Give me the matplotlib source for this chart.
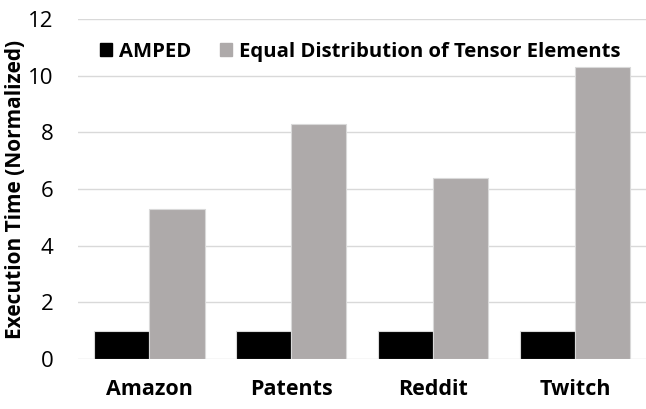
import matplotlib.pyplot as plt
import numpy as np
from matplotlib.patches import Patch

datasets = ["Amazon", "Patents", "Reddit", "Twitch"]
amped = [1.0, 1.0, 1.0, 1.0]
equal_dist = [5.3, 8.3, 6.4, 10.3]
yticks = [0, 2, 4, 6, 8, 10, 12]

plt.rcParams["font.family"] = ["Open Sans", "DejaVu Sans"]

fig = plt.figure(figsize=(6.46, 4.09), dpi=100)
ax = fig.add_axes([0.121, 0.122, 0.879, 0.832])

x = np.arange(len(datasets))
w = 0.39
ax.bar(x - w / 2, amped, w, color="black", edgecolor="#d9d9d9", linewidth=0.8, zorder=3)
ax.bar(x + w / 2, equal_dist, w, color="#aeaaaa", edgecolor="#d9d9d9", linewidth=0.8, zorder=3)

ax.set_xlim(-0.5, 3.5)
ax.set_ylim(0, 12)
ax.set_yticks(yticks)
ax.set_yticklabels([str(t) for t in yticks], fontsize=16)
ax.set_xticks(x)
ax.set_xticklabels(datasets, fontsize=15.5, fontweight="bold")
ax.tick_params(axis="both", length=0)
ax.tick_params(axis="x", pad=14)
ax.tick_params(axis="y", pad=18)
ax.grid(axis="y", color="#d9d9d9", linewidth=1, zorder=0)
for s in ax.spines.values():
    s.set_visible(False)
ax.set_ylabel("Execution Time (Normalized)", fontsize=15, fontweight="bold", labelpad=1)

handles = [Patch(color="black"), Patch(color="#aeaaaa")]
fig.legend(handles, ["AMPED", "Equal Distribution of Tensor Elements"],
           loc="center left", bbox_to_anchor=(0.155, 0.873), ncol=2, frameon=False,
           borderaxespad=0, borderpad=0,
           handlelength=0.6, handleheight=0.6, handletextpad=0.35,
           columnspacing=1.4, prop={"weight": "bold", "size": 14.6})

fig.savefig("out.png", dpi=100)
